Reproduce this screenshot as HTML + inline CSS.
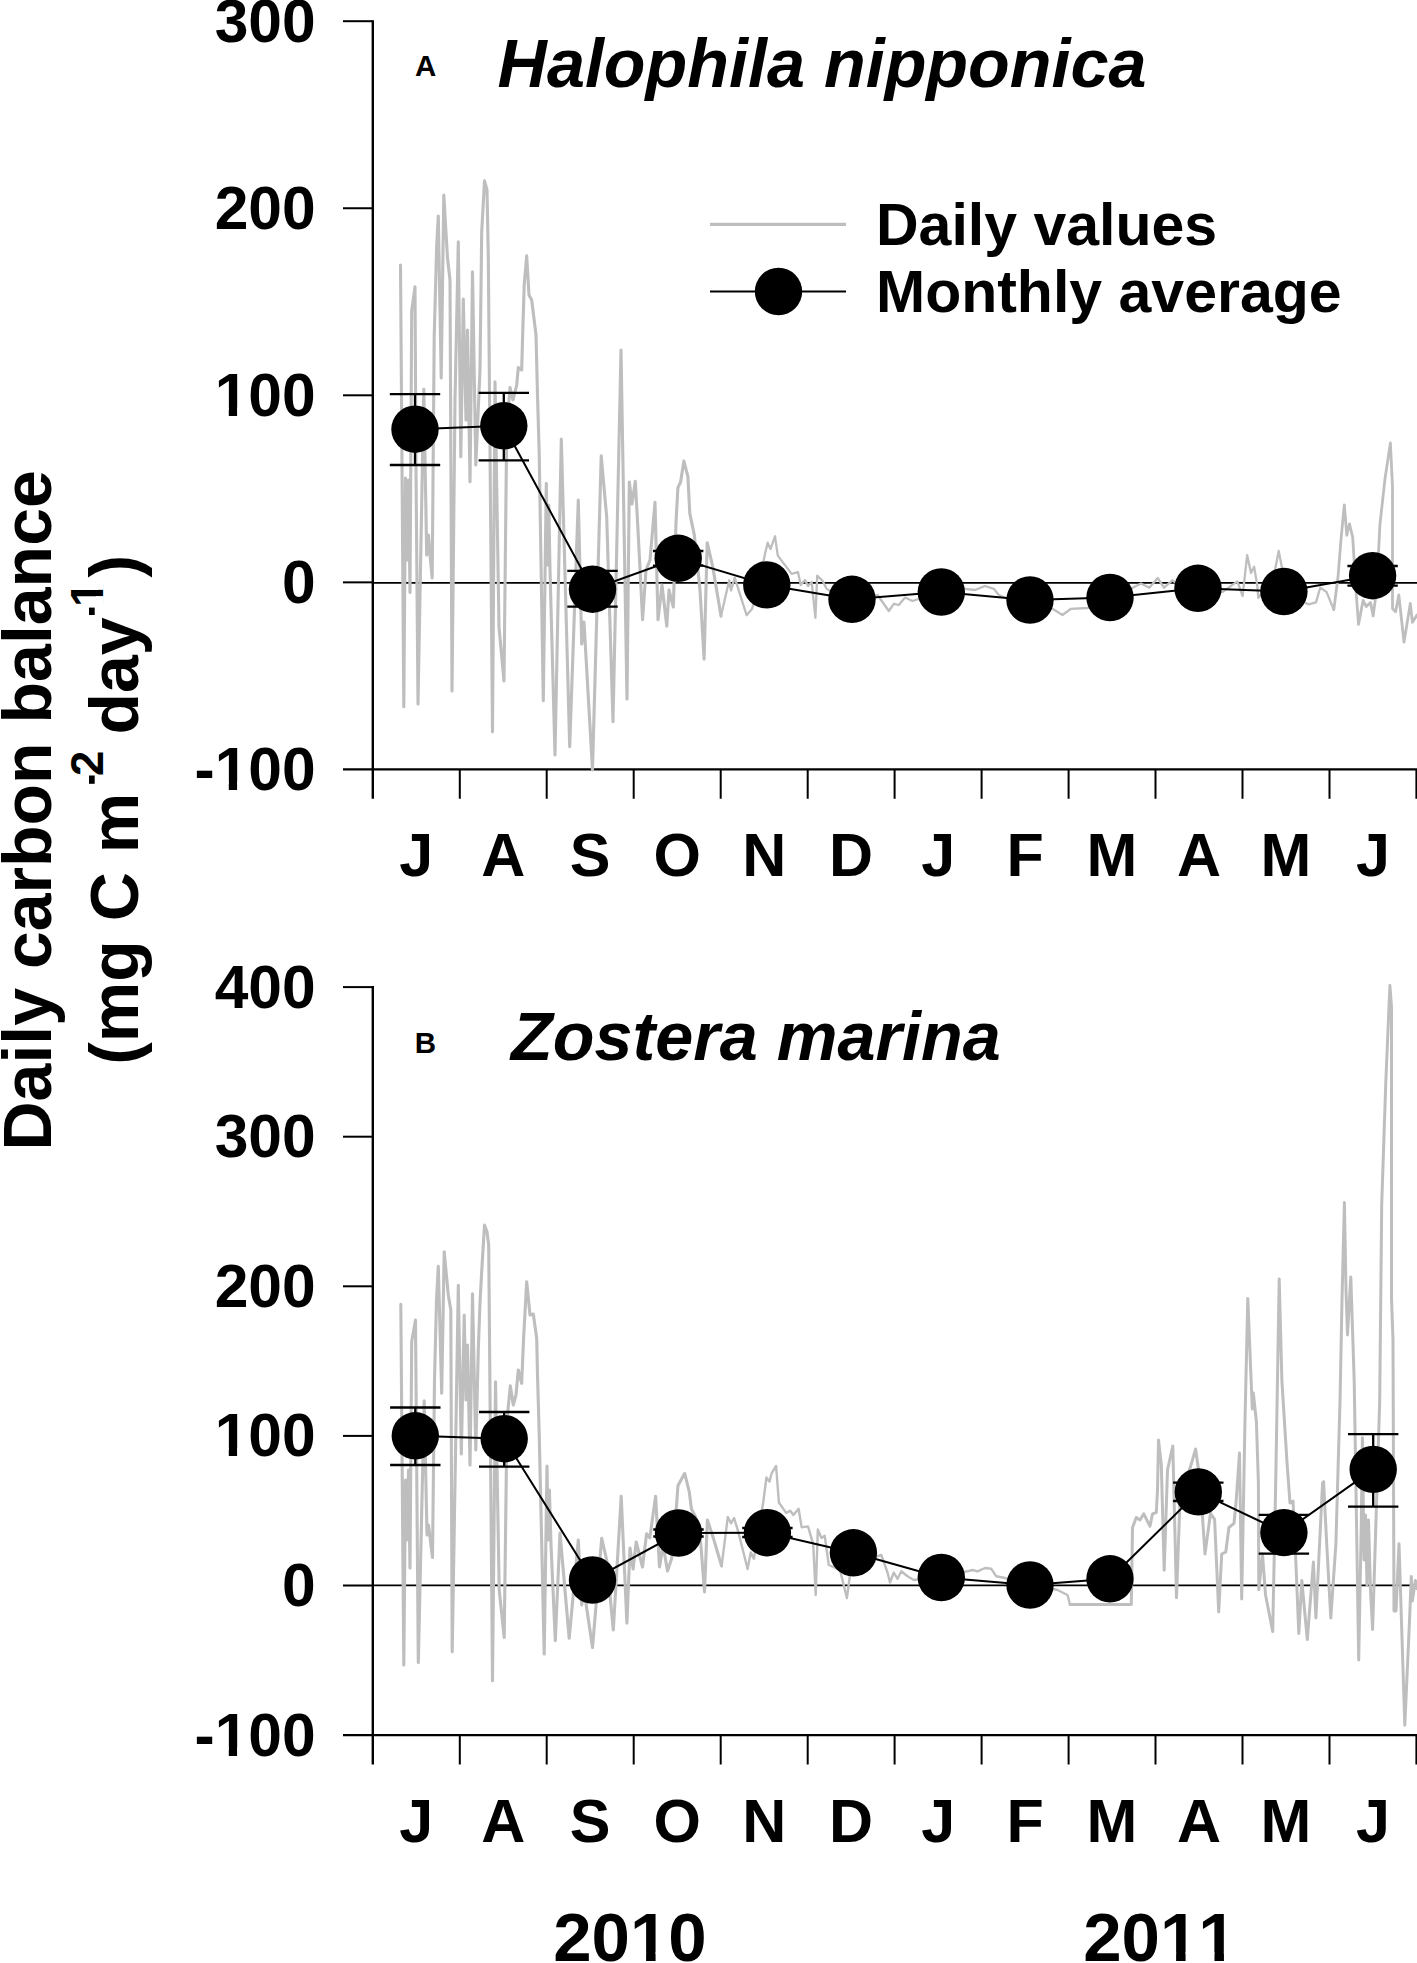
<!DOCTYPE html>
<html><head><meta charset="utf-8"><title>Daily carbon balance</title>
<style>
html,body{margin:0;padding:0;background:#fff;}
body{width:1417px;height:1963px;overflow:hidden;}
svg{display:block;}
text{font-family:"Liberation Sans",sans-serif;font-weight:bold;fill:#000;font-kerning:none;}
.tk{font-size:60.5px;}
.mo{font-size:61px;}
.yr{font-size:69px;}
.lg{font-size:59px;}
.sp{font-size:68.3px;font-style:italic;}
.pl{font-size:29.5px;}
.yl{font-size:68px;}
.su{font-size:45.5px;}
</style></head><body>
<svg width="1417" height="1963" viewBox="0 0 1417 1963">
<rect width="1417" height="1963" fill="#fff"/>
<!-- panel A -->
<path d="M372.8,20.2V798.6999999999999" stroke="#000" stroke-width="2.4" fill="none"/>
<path d="M343,769.4H1417" stroke="#000" stroke-width="2.2" fill="none"/>
<path d="M372.8,582.8H1417" stroke="#000" stroke-width="1.8" fill="none"/>
<path d="M343,21.2H372.8" stroke="#000" stroke-width="2" fill="none"/>
<path d="M343,208.25H372.8" stroke="#000" stroke-width="2" fill="none"/>
<path d="M343,395.3H372.8" stroke="#000" stroke-width="2" fill="none"/>
<path d="M343,582.35H372.8" stroke="#000" stroke-width="2" fill="none"/>
<path d="M459.8,769.4V798.6999999999999M546.7,769.4V798.6999999999999M633.7,769.4V798.6999999999999M720.7,769.4V798.6999999999999M807.7,769.4V798.6999999999999M894.6,769.4V798.6999999999999M981.6,769.4V798.6999999999999M1068.6,769.4V798.6999999999999M1155.5,769.4V798.6999999999999M1242.5,769.4V798.6999999999999M1329.5,769.4V798.6999999999999M1416.4,769.4V798.6999999999999" stroke="#000" stroke-width="2" fill="none"/>
<text x="315.6" y="41.599999999999994" text-anchor="end" class="tk">300</text>
<text x="315.6" y="228.65" text-anchor="end" class="tk">200</text>
<text x="315.6" y="415.7" text-anchor="end" class="tk">100</text><rect x="217.61" y="407.53" width="11.17" height="9.17" fill="#fff"/><rect x="237.08" y="407.53" width="10.37" height="9.17" fill="#fff"/>
<text x="315.6" y="602.75" text-anchor="end" class="tk">0</text>
<text x="315.6" y="789.8" text-anchor="end" class="tk">-100</text><rect x="217.61" y="781.63" width="11.17" height="9.17" fill="#fff"/><rect x="237.08" y="781.63" width="10.37" height="9.17" fill="#fff"/>
<text x="416.3" y="876.4" text-anchor="middle" class="mo">J</text>
<text x="503.3" y="876.4" text-anchor="middle" class="mo">A</text>
<text x="590.2" y="876.4" text-anchor="middle" class="mo">S</text>
<text x="677.2" y="876.4" text-anchor="middle" class="mo">O</text>
<text x="764.2" y="876.4" text-anchor="middle" class="mo">N</text>
<text x="851.1" y="876.4" text-anchor="middle" class="mo">D</text>
<text x="938.1" y="876.4" text-anchor="middle" class="mo">J</text>
<text x="1025.1" y="876.4" text-anchor="middle" class="mo">F</text>
<text x="1112.0" y="876.4" text-anchor="middle" class="mo">M</text>
<text x="1199.0" y="876.4" text-anchor="middle" class="mo">A</text>
<text x="1286.0" y="876.4" text-anchor="middle" class="mo">M</text>
<text x="1373.0" y="876.4" text-anchor="middle" class="mo">J</text>
<polyline points="400.5,265 403.8,706.7 405.5,478 407,560 408.5,480 410,592.5 411.7,311 415,286.7 416,470 418,704 423.8,389 426.7,555 428.5,535 430,555 432.2,578 434.2,337 436.7,245 438.3,216 441.2,378 443.8,195 447.5,258 450,280 452,691 455,400 458.3,241.7 460.8,456.7 463.3,299 466,420 467.5,330 470,481.7 472.5,271.7 475.8,465 480,370 481.7,232 484.5,180.8 487,190 488.3,257 492.5,731.7 495,381.7 499,627 504,681 506.7,430 510,387.5 513,400 516.7,385 518.3,367.5 521.7,370 522.5,340 524.2,285 526.7,255.8 529,295 531.7,300 536,335 537.5,395 539.2,453 543.3,700.8 546.3,483.3 547.6,565 548.8,505 550,570 555,755 561.3,439 569.7,746.7 578.3,500 581.7,644 584,622 592.5,770 601.2,455.8 606.7,517 613,721.7 621,350 627,699 629.3,482 632,504 635.3,481.3 638,530 642.6,619.7 646,570 650,560 655,502.4 658,619.7 662,585 666.8,626.2 669,590 673.3,607 676,522.6 677.9,487.7 680.6,482 683.9,461.1 687.9,476.7 689.8,513.4 694.4,535.4 700,590 704.1,659.2 707.2,542.7 712.7,566.6 721,616.1" fill="none" stroke="#bebebe" stroke-width="3.1" stroke-linejoin="round" stroke-linecap="round"/>
<polyline points="721,616.1 729.2,580.3 731,590.4 734.7,577.6 746.6,615.2 752.1,608.7 760,580 765,553.7 767.7,542.7 770.5,549 775,536.3 777.8,555.6 791.6,573.9 798,572.1 800.7,585 805,580 808,586 811.7,582 815.4,617.9 817.2,575.7 822.7,581 826.4,588.6 835,594 845,598 860,600 877.5,595 888.8,611 893.8,603.8 898.8,605 905,597.5 912.5,601 925,597 940,594 955,592 965,588.8 975,590 985,586 993.8,588.8 998.8,595 1010,600 1030,604 1045,606 1052.5,608.8 1062.5,615 1071,608.8 1087.5,608 1100,606 1120,598 1132.6,587.7 1141,583.5 1149.3,587.7 1157.7,578 1164,587.7 1172.4,580.3 1180,586 1200,588 1222.7,591.9 1237.4,581.4 1242.6,596 1247.2,555.2 1251,573 1254.1,566.7 1257.3,585.6 1258.3,598 1264,590 1270,585 1275,570 1278.7,551 1281.4,564.6 1286,590 1295,598 1308.6,604.4 1316,602.4 1320.2,587.7 1326.5,591.9 1333.8,609.7" fill="none" stroke="#bebebe" stroke-width="2.3" stroke-linejoin="round" stroke-linecap="round"/>
<polyline points="1333.8,609.7 1338,577 1341,539.5 1344.3,504.9 1346.8,535.3 1349.5,523.8 1352.7,537.4 1355.8,587.7 1358.5,624.4 1363.1,600.3 1366.3,606.5 1370.5,602.4 1373.2,616 1376.8,587.7 1379.9,524.8 1385,478.7 1390.4,443 1392.5,487 1392.5,608.6 1395.6,611.8 1398.8,595 1404,642.2 1410.3,603.4 1412.4,622.3 1417,615" fill="none" stroke="#bebebe" stroke-width="2.8" stroke-linejoin="round" stroke-linecap="round"/>
<polyline points="415,429.2 503.8,425.8 592.5,589.2 678.2,558.3 766.8,584.9 852,599.3 941.3,592 1030,600 1110,597.5 1198,588.3 1283.9,591.5 1372.6,575.7" fill="none" stroke="#000" stroke-width="2"/>
<path d="M415,394.2V465M389.8,394.2H440.2M389.8,465H440.2" stroke="#000" stroke-width="2.3" fill="none"/>
<path d="M503.8,392.8V460.3M478.6,392.8H529.0M478.6,460.3H529.0" stroke="#000" stroke-width="2.3" fill="none"/>
<path d="M592.5,570.8V606.7M567.3,570.8H617.7M567.3,606.7H617.7" stroke="#000" stroke-width="2.3" fill="none"/>
<path d="M678.2,551V565.6M653.0,551H703.4000000000001M653.0,565.6H703.4000000000001" stroke="#000" stroke-width="2.3" fill="none"/>
<path d="M1372.6,566V585.6M1347.3999999999999,566H1397.8M1347.3999999999999,585.6H1397.8" stroke="#000" stroke-width="2.3" fill="none"/>
<circle cx="415" cy="429.2" r="23.7" fill="#000"/>
<circle cx="503.8" cy="425.8" r="23.7" fill="#000"/>
<circle cx="592.5" cy="589.2" r="23.7" fill="#000"/>
<circle cx="678.2" cy="558.3" r="23.7" fill="#000"/>
<circle cx="766.8" cy="584.9" r="23.7" fill="#000"/>
<circle cx="852" cy="599.3" r="23.7" fill="#000"/>
<circle cx="941.3" cy="592" r="23.7" fill="#000"/>
<circle cx="1030" cy="600" r="23.7" fill="#000"/>
<circle cx="1110" cy="597.5" r="23.7" fill="#000"/>
<circle cx="1198" cy="588.3" r="23.7" fill="#000"/>
<circle cx="1283.9" cy="591.5" r="23.7" fill="#000"/>
<circle cx="1372.6" cy="575.7" r="23.7" fill="#000"/>
<text x="415" y="76.2" class="pl">A</text>
<text x="497.6" y="87" class="sp">Halophila nipponica</text>
<!-- legend -->
<path d="M710,224.4H846" stroke="#bebebe" stroke-width="3.2"/>
<path d="M710,291.5H846" stroke="#000" stroke-width="2"/>
<circle cx="778.5" cy="291.5" r="23.7" fill="#000"/>
<text x="876" y="245" class="lg">Daily values</text>
<text x="876" y="312" class="lg">Monthly average</text>
<!-- panel B -->
<path d="M372.8,986.1V1764.3999999999999" stroke="#000" stroke-width="2.4" fill="none"/>
<path d="M343,1735.1H1417" stroke="#000" stroke-width="2.2" fill="none"/>
<path d="M372.8,1585.4H1417" stroke="#000" stroke-width="1.8" fill="none"/>
<path d="M343,987.1H372.8" stroke="#000" stroke-width="2" fill="none"/>
<path d="M343,1136.7H372.8" stroke="#000" stroke-width="2" fill="none"/>
<path d="M343,1286.3H372.8" stroke="#000" stroke-width="2" fill="none"/>
<path d="M343,1435.9H372.8" stroke="#000" stroke-width="2" fill="none"/>
<path d="M343,1585.5H372.8" stroke="#000" stroke-width="2" fill="none"/>
<path d="M459.8,1735.1V1764.3999999999999M546.7,1735.1V1764.3999999999999M633.7,1735.1V1764.3999999999999M720.7,1735.1V1764.3999999999999M807.7,1735.1V1764.3999999999999M894.6,1735.1V1764.3999999999999M981.6,1735.1V1764.3999999999999M1068.6,1735.1V1764.3999999999999M1155.5,1735.1V1764.3999999999999M1242.5,1735.1V1764.3999999999999M1329.5,1735.1V1764.3999999999999M1416.4,1735.1V1764.3999999999999" stroke="#000" stroke-width="2" fill="none"/>
<text x="315.6" y="1007.5" text-anchor="end" class="tk">400</text>
<text x="315.6" y="1157.1000000000001" text-anchor="end" class="tk">300</text>
<text x="315.6" y="1306.7" text-anchor="end" class="tk">200</text>
<text x="315.6" y="1456.3000000000002" text-anchor="end" class="tk">100</text><rect x="217.61" y="1448.13" width="11.17" height="9.17" fill="#fff"/><rect x="237.08" y="1448.13" width="10.37" height="9.17" fill="#fff"/>
<text x="315.6" y="1605.9" text-anchor="end" class="tk">0</text>
<text x="315.6" y="1755.5" text-anchor="end" class="tk">-100</text><rect x="217.61" y="1747.33" width="11.17" height="9.17" fill="#fff"/><rect x="237.08" y="1747.33" width="10.37" height="9.17" fill="#fff"/>
<text x="416.3" y="1842.1" text-anchor="middle" class="mo">J</text>
<text x="503.3" y="1842.1" text-anchor="middle" class="mo">A</text>
<text x="590.2" y="1842.1" text-anchor="middle" class="mo">S</text>
<text x="677.2" y="1842.1" text-anchor="middle" class="mo">O</text>
<text x="764.2" y="1842.1" text-anchor="middle" class="mo">N</text>
<text x="851.1" y="1842.1" text-anchor="middle" class="mo">D</text>
<text x="938.1" y="1842.1" text-anchor="middle" class="mo">J</text>
<text x="1025.1" y="1842.1" text-anchor="middle" class="mo">F</text>
<text x="1112.0" y="1842.1" text-anchor="middle" class="mo">M</text>
<text x="1199.0" y="1842.1" text-anchor="middle" class="mo">A</text>
<text x="1286.0" y="1842.1" text-anchor="middle" class="mo">M</text>
<text x="1373.0" y="1842.1" text-anchor="middle" class="mo">J</text>
<polyline points="400.8,1304.2 403.8,1665 405.5,1480 407,1540 408.5,1470 410,1568 411.7,1341.7 415.5,1320 418.3,1662.5 424.2,1400.8 427,1535 428.5,1525 432.5,1557.5 434.5,1380 436.5,1300 438.3,1266.3 441.7,1393.3 444.2,1251.7 448.3,1295 450.8,1310 452.2,1651.7 458.3,1285.3 461.3,1454 464.2,1315 466,1400 467.5,1345 470,1465 472.5,1293.7 475.8,1450 478.3,1350 480,1303 481.7,1271.7 484.5,1225 487,1231.7 488.7,1245 492.5,1680.8 495.5,1381.7 499.2,1590 504.2,1637.5 507,1420 510.3,1385.8 513.3,1405 516,1395 518.3,1370 521.7,1383.3 523.5,1340 526.7,1281.7 530,1315 533.3,1314 536.7,1338.3 537.5,1375 539.2,1433.3 544.2,1654 547,1466 548.2,1540 549.4,1490 551,1545 555.3,1640.8 560,1533 569.2,1638.3 578.3,1540 581.7,1605 584,1590 592.5,1647.5 601.7,1538.3 606.7,1560 613.3,1630 621.2,1496.2 626.9,1623.2 630,1548 633.1,1569 636.2,1542 642.5,1567 646.6,1533.7 649.8,1537.9 655.6,1496.2 659.5,1567 663,1545 667.5,1571 671.6,1558.7 676.8,1502.5 677.9,1485.8 684.7,1473.3 689.3,1492 691.4,1508.7 696.6,1519.1 700.8,1544.1 704.5,1592 707.4,1520 713.3,1537.9 721.6,1566" fill="none" stroke="#bebebe" stroke-width="3.1" stroke-linejoin="round" stroke-linecap="round"/>
<polyline points="721.6,1566 727.8,1517 731,1523.3 734.1,1518 738.2,1531.6 742.4,1548.3 747.6,1569 750.7,1552.4 753.9,1558.7 763.2,1502.5 766.4,1477.5 769.5,1481.6 771.6,1473.3 776.1,1466 778.9,1502.5 786.1,1512.9 790.3,1510.8 793.4,1515 798.6,1508.7 801.7,1527.4 808,1526.4 813.2,1544.1 815.7,1595 817.8,1529.5 821.5,1537.9 824.7,1535.8 828.8,1565 840,1570 846.9,1598 852,1560 865,1556 875.7,1556.6 881.3,1555 887.5,1572.5 890,1582.5 893.8,1572.5 897.5,1578.8 901.3,1571.3 907.5,1576.3 913.8,1580 930,1578 950,1574 967.5,1571.3 972.5,1570 977.5,1571.3 985,1568 991.3,1568.8 996.3,1576.3 1005,1578 1020,1582 1040,1586 1057.5,1590 1067.5,1595 1070,1604.5" fill="none" stroke="#bebebe" stroke-width="2.4" stroke-linejoin="round" stroke-linecap="round"/>
<polyline points="1070,1604.5 1131.3,1604.5 1132.5,1527.5 1136.3,1517.5 1140,1520 1143.8,1513.8 1150,1526.3 1152.5,1513.8 1156.3,1512.5 1157.5,1490 1158.5,1440 1161.3,1465 1164.2,1570.3 1167.5,1470 1172.8,1446 1176.5,1597.8 1180,1500 1191.2,1464.3 1195.6,1449 1200,1480 1205,1554 1210.5,1513.3 1214.6,1519.4 1218.7,1612 1221.7,1554 1225.8,1552 1228.9,1527.5 1234,1523.4 1236,1503 1239.5,1453 1241.7,1598.9 1245,1420 1247.8,1298.4 1250.3,1360.4 1252.3,1409 1253.3,1393 1256.4,1421.5 1258.4,1482.7 1258.8,1589.7 1262.5,1554 1265.5,1594.8 1272.7,1631.5 1275.7,1482.7 1279.2,1279 1281.9,1380.8 1287,1462.3 1290,1503 1293,1501 1295.1,1543.8 1298.8,1633.5 1301.8,1580.5 1307.3,1639.6 1313.4,1562 1315.9,1618 1322.6,1482.7 1323.6,1481.7 1326.7,1543.8 1330.8,1618 1335.9,1543.8 1340,1401 1342,1300 1344.4,1202.6 1346,1290 1347.5,1335 1350.8,1277 1354.2,1380.8 1356.2,1503 1358.7,1660 1361.3,1523.4 1362.4,1437.8 1364,1560 1365.5,1515 1367,1585 1368.5,1520 1370.5,1590 1372.6,1629.4 1379.7,1401 1381.7,1204.6 1385.8,1082 1389.9,985.5 1391.5,1007 1391.5,1298 1393,1340 1394,1611 1396,1611 1399,1543.8 1404.8,1725.2 1409.3,1625.4 1411.3,1576.4 1412.3,1600.9 1415.4,1580.5 1417,1588.7" fill="none" stroke="#bebebe" stroke-width="3.0" stroke-linejoin="round" stroke-linecap="round"/>
<polyline points="415.3,1435.8 504.2,1438.7 592.5,1580 678.5,1533 767.4,1532.7 853.4,1552.8 941.3,1577.5 1030,1585 1110,1578.8 1198.3,1491.9 1283.9,1532.6 1373.2,1469.4" fill="none" stroke="#000" stroke-width="2"/>
<path d="M415.3,1407.5V1465M390.1,1407.5H440.5M390.1,1465H440.5" stroke="#000" stroke-width="2.3" fill="none"/>
<path d="M504.2,1412V1466.7M479.0,1412H529.4M479.0,1466.7H529.4" stroke="#000" stroke-width="2.3" fill="none"/>
<path d="M678.5,1529.5V1536.5M653.3,1529.5H703.7M653.3,1536.5H703.7" stroke="#000" stroke-width="2.3" fill="none"/>
<path d="M767.4,1528V1537M742.1999999999999,1528H792.6M742.1999999999999,1537H792.6" stroke="#000" stroke-width="2.3" fill="none"/>
<path d="M1198.3,1482.7V1501M1173.1,1482.7H1223.5M1173.1,1501H1223.5" stroke="#000" stroke-width="2.3" fill="none"/>
<path d="M1283.9,1514.9V1553.6M1258.7,1514.9H1309.1000000000001M1258.7,1553.6H1309.1000000000001" stroke="#000" stroke-width="2.3" fill="none"/>
<path d="M1373.2,1434.2V1506.7M1348.0,1434.2H1398.4M1348.0,1506.7H1398.4" stroke="#000" stroke-width="2.3" fill="none"/>
<circle cx="415.3" cy="1435.8" r="23.7" fill="#000"/>
<circle cx="504.2" cy="1438.7" r="23.7" fill="#000"/>
<circle cx="592.5" cy="1580" r="23.7" fill="#000"/>
<circle cx="678.5" cy="1533" r="23.7" fill="#000"/>
<circle cx="767.4" cy="1532.7" r="23.7" fill="#000"/>
<circle cx="853.4" cy="1552.8" r="23.7" fill="#000"/>
<circle cx="941.3" cy="1577.5" r="23.7" fill="#000"/>
<circle cx="1030" cy="1585" r="23.7" fill="#000"/>
<circle cx="1110" cy="1578.8" r="23.7" fill="#000"/>
<circle cx="1198.3" cy="1491.9" r="23.7" fill="#000"/>
<circle cx="1283.9" cy="1532.6" r="23.7" fill="#000"/>
<circle cx="1373.2" cy="1469.4" r="23.7" fill="#000"/>
<text x="414.8" y="1053" class="pl">B</text>
<text x="511" y="1060" class="sp">Zostera marina</text>
<text x="630" y="1961.3" text-anchor="middle" class="yr">2010</text><rect x="633.37" y="1952.26" width="12.74" height="10.04" fill="#fff"/><rect x="655.57" y="1952.26" width="11.83" height="10.04" fill="#fff"/>
<text x="1160" y="1961.3" text-anchor="middle" class="yr">2011</text><rect x="1163.37" y="1952.26" width="12.74" height="10.04" fill="#fff"/><rect x="1185.57" y="1952.26" width="11.83" height="10.04" fill="#fff"/><rect x="1201.74" y="1952.26" width="12.74" height="10.04" fill="#fff"/><rect x="1223.95" y="1952.26" width="11.83" height="10.04" fill="#fff"/>
<!-- y label -->
<text transform="translate(51,1150.5) rotate(-90)" class="yl">Daily carbon balance</text>
<text transform="translate(137.7,1064.8) rotate(-90)" class="yl">(mg C m</text>
<text transform="translate(102.8,776) rotate(-90)" class="su">2</text>
<rect x="89" y="775.5" width="5.7" height="8.3" fill="#000"/>
<text transform="translate(137.7,734.5) rotate(-90)" class="yl">day</text>
<g transform="translate(102.8,606.7) rotate(-90)"><text class="su">1</text><rect x="2.22" y="-6.64" width="8.40" height="7.64" fill="#fff"/><rect x="16.86" y="-6.64" width="7.80" height="7.64" fill="#fff"/></g>
<rect x="89" y="607.6" width="5.7" height="7.4" fill="#000"/>
<text transform="translate(137.7,577.5) rotate(-90)" class="yl">)</text>
</svg>
</body></html>
